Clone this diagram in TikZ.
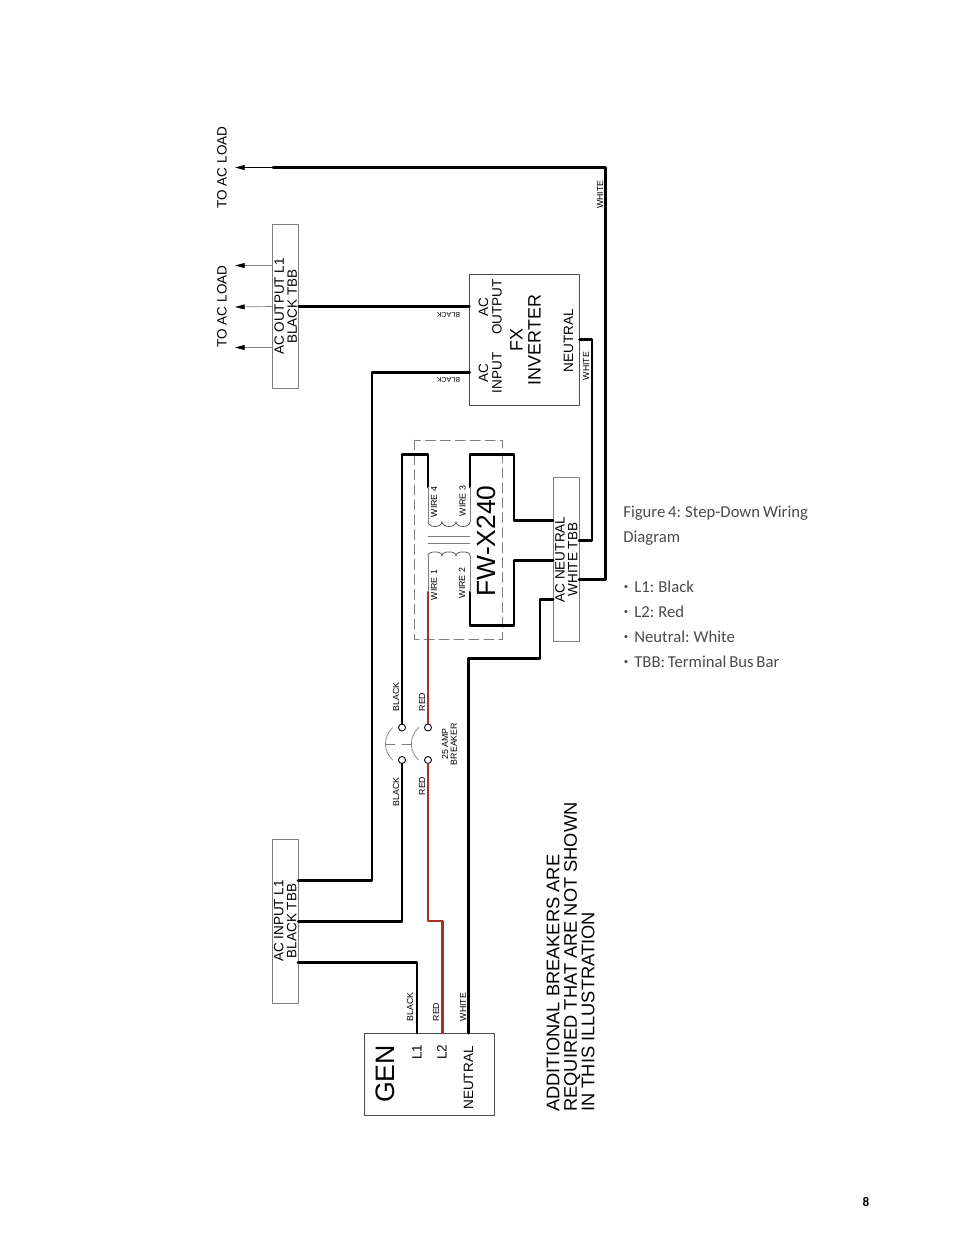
\documentclass[tikz,border=0pt]{standalone}
\usepackage{fontspec}
\setmainfont{Liberation Sans}
\newfontfamily\notefont[WordSpace=0.75]{Carlito}
\usepackage{tikz}
\usetikzlibrary{arrows,arrows.meta}
\definecolor{wirered}{HTML}{A5332A}
\definecolor{notegray}{HTML}{4A4A4A}
\definecolor{linegray}{HTML}{7F7F7F}
\newcommand{\fs}[1]{\fontsize{#1}{#1}\selectfont}
\tikzset{
  wire/.style={line width=1.7pt,color=black},
  redwire/.style={line width=1.4pt,color=wirered},
  fine/.style={line width=0.4pt,color=linegray},
  feed/.style={->,line width=0.4pt,color=linegray},
  tbb/.style={draw=linegray,line width=0.5pt,rotate=90,inner sep=0pt,minimum width=3.28cm,minimum height=0.52cm},
  unit/.style={draw=black!70,line width=0.5pt,inner sep=0pt},
  lab/.style={rotate=90,align=center,inner sep=0pt,font=\fs{7.7}},
  tbblab/.style={rotate=90,align=center,inner sep=0pt,font=\fontsize{7.7}{7.3}\selectfont},
  tiny/.style={rotate=90,inner sep=0pt,font=\fs{5}},
  flipped/.style={rotate=180,inner sep=0pt,font=\fs{4}},
  term/.style={circle,draw=black,line width=0.5pt,fill=white,inner sep=0pt,minimum size=0.14cm},
  note/.style={anchor=base west,inner sep=0pt,color=notegray,font=\notefont\fs{9.5}},
  dot/.style={inner sep=0pt,color=notegray,font=\notefont\fs{5}}
}
\begin{document}
\begin{tikzpicture}[line cap=round,line join=round,>={Triangle[length=5.5pt,width=2.8pt,color=black]},x=0.02cm,y=-0.02cm]
		\useasboundingbox (0,0) rectangle (954,1235);
		\node[tbb] (acout) at (285.5,306.5) {};
		\node[tbb] (acin) at (285,921) {};
		\node[tbb] (acneu) at (566,559.5) {};
		\node[tbblab] (acoutlab) at (285.7,306.5) {AC OUTPUT L1\\BLACK TBB};
		\node[tbblab] (acinlab) at (285.2,921) {AC INPUT L1\\BLACK TBB};
		\node[tbblab] (acneulab) at (566.2,559.5) {AC NEUTRAL\\WHITE TBB};
		\node[unit,minimum width=2.2cm,minimum height=2.62cm] (fx) at (524.5,339.5) {};
		\node[unit,minimum width=2.6cm,minimum height=1.64cm] (gen) at (429.3,1074) {};
		\draw[fine,color=linegray,dash pattern=on 5.7pt off 2.8pt] (414,440) rectangle (502,639);
		\coordinate (loada) at (235,167.5);
		\coordinate (loadb) at (235,265.5);
		\coordinate (loadc) at (235,307);
		\coordinate (loadd) at (235,347.5);
		\coordinate (wraptop) at (273,167.5);
		\coordinate (acoutb) at (272.5,265.5);
		\coordinate (acoutd) at (272.5,347.5);
		\coordinate (fxin) at (469.5,372);
		\coordinate (fxneu) at (579.5,339);
		\coordinate (acina) at (298,880);
		\coordinate (acinc) at (298,962);
		\coordinate (neua) at (579,540);
		\coordinate (neub) at (579,579);
		\coordinate (neuc) at (553,520);
		\coordinate (neud) at (553,560);
		\coordinate (neue) at (553,599);
		\coordinate (genla) at (417,1033);
		\coordinate (genlb) at (442.7,1033);
		\coordinate (genn) at (468.7,1033);
		\coordinate (wone) at (428,592);
		\coordinate (wtwo) at (470,592);
		\coordinate (wthree) at (470,487);
		\coordinate (wfour) at (428,487);
		\node[term] (bka) at (402,727.5) {};
		\node[term] (bkb) at (402,760) {};
		\node[term] (bkc) at (428,727.5) {};
		\node[term] (bkd) at (428,760) {};
		\draw[feed,color=black] (wraptop) -- (loada);
		\draw[feed] (acoutb) -- (loadb);
		\draw[feed] (acout.north) -- (loadc);
		\draw[feed] (acoutd) -- (loadd);
		\draw[wire] (wraptop) -- (605.5,167.5) -- (605.5,579) -- (neub);
		\draw[wire] (acout.south) -- (fx.west |- acout.south);
		\draw[wire] (fxin) -- (372,372) -- (372,880) -- (acina);
		\draw[wire] (fxneu) -- (592,339) -- (592,540) -- (neua);
		\draw[wire] (bka) -- (402,454.5) -- (428,454.5) -- (wfour);
		\draw[wire] (wthree) -- (470,454.5) -- (514,454.5) -- (514,520) -- (neuc);
		\draw[wire] (neud) -- (514,560) -- (514,625) -- (470,625) -- (wtwo);
		\draw[wire] (bkb) -- (402,921) -- (acin.south);
		\draw[wire] (genla) -- (417,962) -- (acinc);
		\draw[wire] (genn) -- (468.7,658) -- (540,658) -- (540,599) -- (neue);
		\draw[redwire] (bkc) -- (wone);
		\draw[redwire] (bkd) -- (428,921) -- (442.7,921) -- (genlb);
		\draw[fine] (wfour) -- (428,522);
		\draw[fine] (wthree) -- (470,522);
		\draw[fine] (wone) -- (428,556);
		\draw[fine] (wtwo) -- (470,556);
		\foreach \k in {0,1,2}
		\draw[fine,color=black!70] ({428+14*\k},522) .. controls ({429+14*\k},528) and ({441+14*\k},528) .. ({442+14*\k},522);
		\foreach \k in {0,1,2}
		\draw[fine,color=black!70] ({428+14*\k},556) .. controls ({427+14*\k},550.5) and ({443+14*\k},550.5) .. ({442+14*\k},556);
		\draw[fine] (428,536.7) -- (470,536.7);
		\draw[fine] (428,543) -- (470,543);
		\draw[fine] (392.7,727.5) .. controls (383,737) and (383,751) .. (392.7,760);
		\draw[fine] (418.5,727.5) .. controls (409,737) and (409,751) .. (418.5,760);
		\draw[fine] (385.5,744) -- (395,744);
		\draw[fine] (402,744) -- (411.5,744);
		\node[lab] (loadlaba) at (222,167.5) {TO AC LOAD};
		\node[lab] (loadlabb) at (222,306.5) {TO AC LOAD};
		\node[lab] (fxac) at (483.5,307) {AC};
		\node[lab] (fxout) at (497,307) {OUTPUT};
		\node[lab] (fxacb) at (483.5,373) {AC};
		\node[lab] (fxinp) at (497,373) {INPUT};
		\node[lab,font=\fs{10.2}] (fxname) at (525.5,340) {FX\\INVERTER};
		\node[lab] (fxneutral) at (568.5,340.5) {NEUTRAL};
		\node[lab,font=\fs{15}] (fwname) at (486,541) {FW-X240};
		\node[lab,font=\fs{15.2}] (genname) at (385,1074) {GEN};
		\node[lab] (genlone) at (417,1052) {L1};
		\node[lab] (genltwo) at (442,1052) {L2};
		\node[lab] (genneutral) at (468.5,1078) {NEUTRAL};
		\node[tiny] (whitea) at (600,194.5) {WHITE};
		\node[tiny] (whiteb) at (586,366) {WHITE};
		\node[flipped] (blacka) at (448.5,314.5) {BLACK};
		\node[flipped] (blackb) at (448.5,380) {BLACK};
		\node[tiny] (wirefour) at (434,502) {WIRE 4};
		\node[tiny] (wirethree) at (462.7,501) {WIRE 3};
		\node[tiny] (wireone) at (434,585) {WIRE 1};
		\node[tiny] (wiretwo) at (462,583) {WIRE 2};
		\node[tiny] (blackc) at (396,697) {BLACK};
		\node[tiny] (redc) at (422,702) {RED};
		\node[tiny] (blackd) at (396,792) {BLACK};
		\node[tiny] (redd) at (422,786) {RED};
		\node[tiny,align=center] (brkname) at (449.5,744) {25 AMP\\BREAKER};
		\node[tiny] (blacke) at (410,1007) {BLACK};
		\node[tiny] (rede) at (436,1012) {RED};
		\node[tiny] (whitee) at (463,1007) {WHITE};
		\node[lab,anchor=south west,align=left,font=\fontsize{10.4}{10}\selectfont] (addnote) at (595,1112) {ADDITIONAL BREAKERS ARE\\REQUIRED THAT ARE NOT SHOWN\\IN THIS ILLUSTRATION};
		\node[note] (figa) at (623,517) {Figure 4: Step-Down Wiring};
		\node[note] (figb) at (623,542) {Diagram};
		\node[dot] (bullia) at (626,587) {•};
		\node[dot] (bullib) at (626,612) {•};
		\node[dot] (bullic) at (626,637) {•};
		\node[dot] (bullid) at (626,662) {•};
		\node[note] (itema) at (634,592) {L1: Black};
		\node[note] (itemb) at (634,617) {L2: Red};
		\node[note] (itemc) at (634,642) {Neutral: White};
		\node[note] (itemd) at (634,667) {TBB: Terminal Bus Bar};
		\node[inner sep=0pt,font=\notefont\bfseries\fs{7.5}] (pagenum) at (866,1202) {8};
\end{tikzpicture}
\end{document}
